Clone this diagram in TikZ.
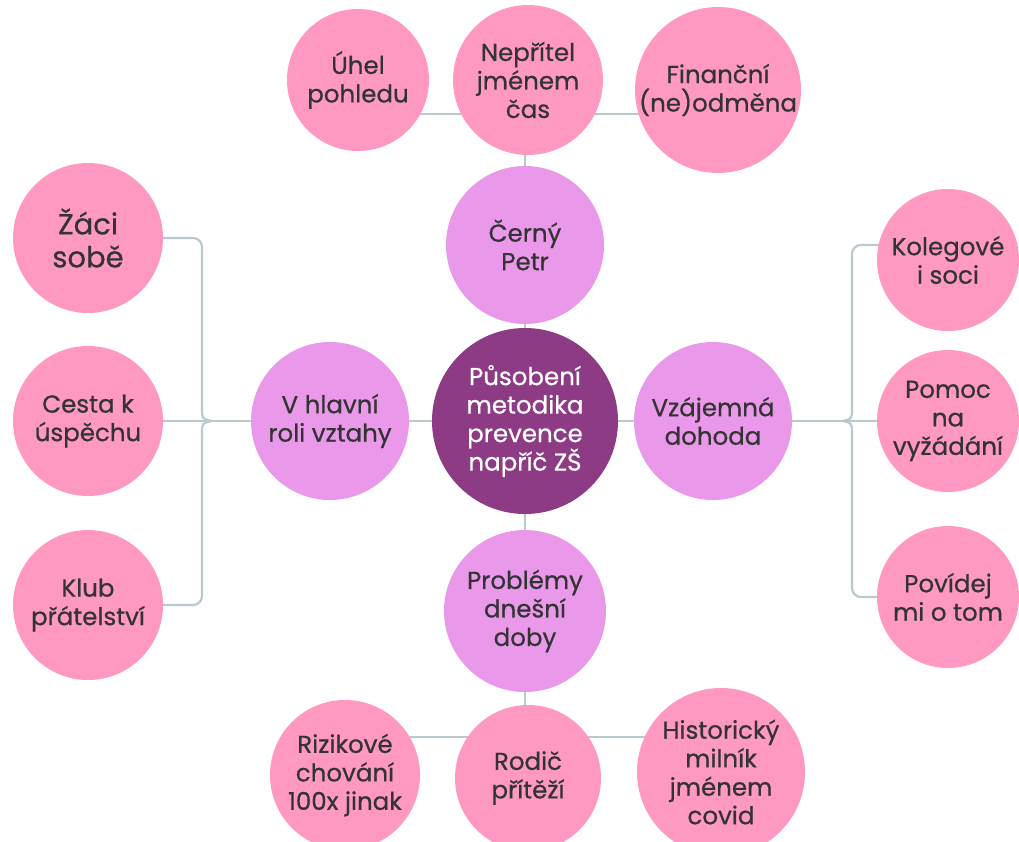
\documentclass[tikz,border=0pt]{standalone}
\usepackage{fontspec}
\usetikzlibrary{backgrounds}
\setmainfont{Poppins}
\newfontfamily\lblfont{Poppins}[FakeBold=0.6]
\begin{document}
\begin{tikzpicture}[x=1pt,y=-1pt,
  every node/.style={circle,inner sep=0pt,align=center,font=\lblfont\fontsize{24.5}{28.5}\selectfont},
  center/.style={fill=darkp,text=white,minimum size=186pt},
  mid/.style={fill=lightp,text=txt,minimum size=158pt},
  leaf/.style={fill=pinkc,text=txt,minimum size=148pt},
  conn/.style={draw=linec,line width=2.2pt},
]
\definecolor{darkp}{HTML}{8E3B85}
\definecolor{lightp}{HTML}{EA99EA}
\definecolor{pinkc}{HTML}{FF99C2}
\definecolor{linec}{HTML}{B9C9CD}
\definecolor{txt}{HTML}{333333}
\useasboundingbox (0,0) rectangle (1019,841);

\coordinate (lj) at (212,421);
\coordinate (rj) at (843,421);

% nodes
\node[center] (c) at (525,421) {Působení\\metodika\\prevence\\napříč ZŠ};
\node[mid] (top) at (525,245) {Černý\\Petr};
\node[mid] (left) at (330,421) {V hlavní\\roli vztahy};
\node[mid] (right) at (713,421) {Vzájemná\\dohoda};
\node[mid,minimum size=162pt] (bot) at (525,611) {Problémy\\dnešní\\doby};

\node[leaf,minimum size=142pt] (t1) at (358,80) {Úhel\\pohledu};
\node[leaf,minimum size=150pt] (t2) at (528,80) {Nepřítel\\jménem\\čas};
\node[leaf,minimum size=166pt] (t3) at (718,90) {Finanční\\(ne)odměna};

\node[leaf,minimum size=150pt,font=\lblfont\fontsize{29}{33}\selectfont] (l1) at (88,238) {Žáci\\sobě};
\node[leaf,minimum size=150pt] (l2) at (88,421) {Cesta k\\úspěchu};
\node[leaf,minimum size=150pt] (l3) at (88,605) {Klub\\přátelství};

\node[leaf,minimum size=142pt] (r1) at (948,260) {Kolegové\\i soci};
\node[leaf,minimum size=142pt] (r2) at (948,421) {Pomoc\\na\\vyžádání};
\node[leaf,minimum size=142pt] (r3) at (948,597) {Povídej\\mi o tom};

\node[leaf,minimum size=150pt] (b1) at (345,775) {Rizikové\\chování\\100x jinak};
\node[leaf,minimum size=146pt] (b2) at (528,778) {Rodič\\přítěží};
\node[leaf,minimum size=168pt] (b3) at (721,772) {Historický\\milník\\jménem\\covid};

\begin{pgfonlayer}{background}
  % centre spokes
  \draw[conn] (c) -- (top);
  \draw[conn] (c) -- (bot);
  \draw[conn] (c) -- (left);
  \draw[conn] (c) -- (right);
  % top group
  \draw[conn] (top) -- (top |- t2.south);
  \draw[conn] ([yshift=-34pt]t1.center) -- ([yshift=-34pt]t2.center);
  \draw[conn] ([yshift=-34pt]t2.center) -- ([yshift=-24pt]t3.center);
  % bottom group
  \draw[conn] (bot) -- (bot |- b2.north);
  \draw[conn] ([yshift=38pt]b1.center) -- ([yshift=41pt]b2.center);
  \draw[conn] ([yshift=41pt]b2.center) -- ([yshift=35pt]b3.center);
  % left bracket
  \draw[conn] (l2) -- (left);
  \draw[conn,rounded corners=9pt] (l1) -- (202,238) -- (202,409);
  \draw[conn] (202,408) .. controls (202,419) .. (lj);
  \draw[conn] (lj) .. controls (202,423) .. (202,434);
  \draw[conn,rounded corners=9pt] (202,433) -- (202,605) -- (l3);
  % right bracket
  \draw[conn] (right) -- (r2);
  \draw[conn,rounded corners=9pt] ([yshift=15pt]r1.center) -- (852,245) -- (852,409);
  \draw[conn] (852,408) .. controls (852,419) .. (rj);
  \draw[conn] (rj) .. controls (852,423) .. (852,434);
  \draw[conn,rounded corners=9pt] (852,433) -- (852,597) -- (r3);
\end{pgfonlayer}
\end{tikzpicture}
\end{document}
